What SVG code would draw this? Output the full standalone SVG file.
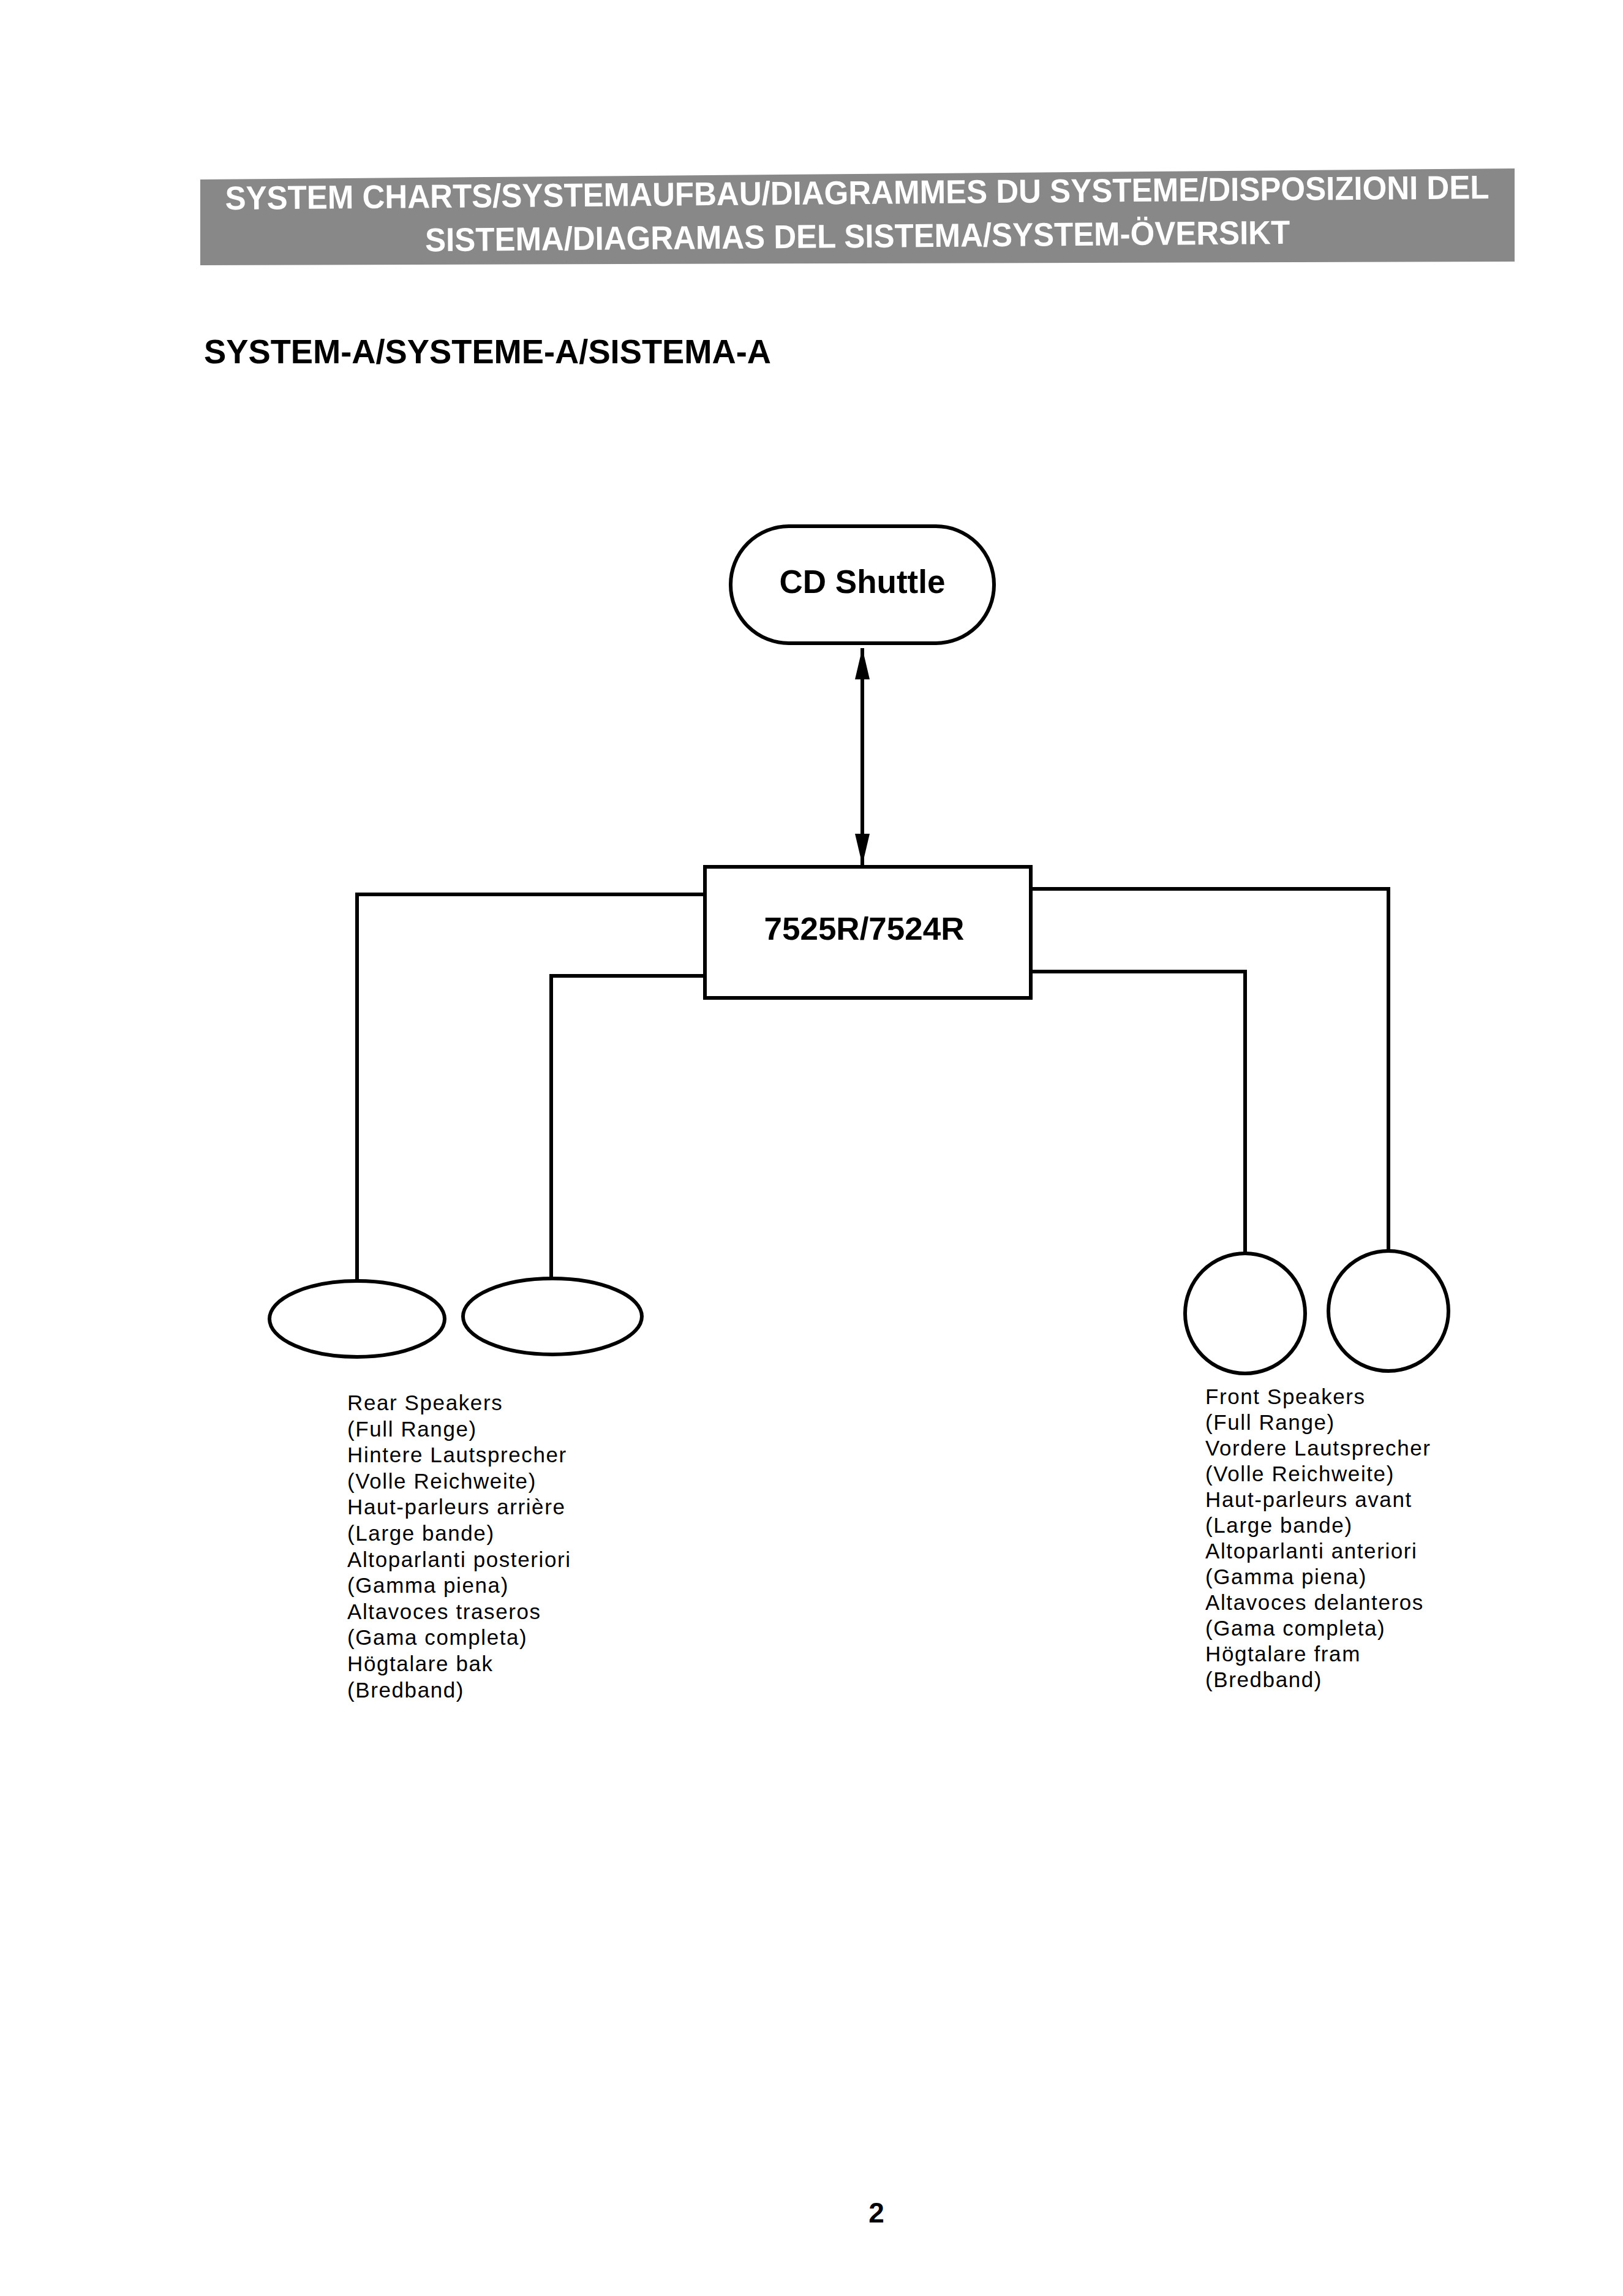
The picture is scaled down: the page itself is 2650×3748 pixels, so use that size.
<svg xmlns="http://www.w3.org/2000/svg" width="2650" height="3748" viewBox="0 0 2650 3748">
<style>
.hdr{font-family:"Liberation Sans",Arial,sans-serif;font-weight:bold;fill:#ffffff;font-size:54px}
.ttl{font-family:"Liberation Sans",Arial,sans-serif;font-weight:bold;fill:#000;font-size:56px}
.lbl{font-family:"Liberation Sans",Arial,sans-serif;font-weight:bold;fill:#000}
.cap{font-family:"Liberation Sans",Arial,sans-serif;fill:#000;font-size:35px;letter-spacing:1.6px}
.shape{fill:#fff;stroke:#000;stroke-width:6}
.wire{fill:none;stroke:#000;stroke-width:6}
</style>
<defs>
<marker id="ah" viewBox="0 0 10 10" refX="10" refY="5" markerWidth="8.5" markerHeight="4" markerUnits="strokeWidth" orient="auto-start-reverse" preserveAspectRatio="none">
<path d="M0,0 L10,5 L0,10 Z" fill="#000"/>
</marker>
</defs>
<rect width="2650" height="3748" fill="#fff"/>
<g id="header">
<polygon points="327,293 2473,275 2473,427 327,433" fill="#888888"/>
<g transform="rotate(-0.5 1400 365)">
<text class="hdr" x="1400" y="333" text-anchor="middle" textLength="2064" lengthAdjust="spacingAndGlyphs">SYSTEM CHARTS/SYSTEMAUFBAU/DIAGRAMMES DU SYSTEME/DISPOSIZIONI DEL</text>
<text class="hdr" x="1400" y="404" text-anchor="middle" textLength="1412" lengthAdjust="spacingAndGlyphs">SISTEMA/DIAGRAMAS DEL SISTEMA/SYSTEM-ÖVERSIKT</text>
</g>
</g>
<g id="title">
<text class="ttl" x="333" y="593" textLength="926" lengthAdjust="spacingAndGlyphs">SYSTEM-A/SYSTEME-A/SISTEMA-A</text>
</g>
<g id="connectors">
<line class="wire" x1="1408" y1="1058" x2="1408" y2="1412" marker-start="url(#ah)" marker-end="url(#ah)"/>
<polyline class="wire" points="1151,1460 583,1460 583,2092"/>
<polyline class="wire" points="1151,1593 900,1593 900,2087"/>
<polyline class="wire" points="1683,1451 2267,1451 2267,2042"/>
<polyline class="wire" points="1683,1586 2033,1586 2033,2047"/>
</g>
<g id="cd-shuttle">
<rect class="shape" x="1193" y="859" width="430" height="191" rx="95" ry="95" stroke-width="7"/>
<text class="lbl" x="1408" y="968" font-size="53" text-anchor="middle">CD Shuttle</text>
</g>
<g id="unit-7525r">
<rect class="shape" x="1151" y="1415" width="532" height="214"/>
<text class="lbl" x="1411" y="1534" font-size="52" text-anchor="middle" textLength="327" lengthAdjust="spacingAndGlyphs">7525R/7524R</text>
</g>
<g id="rear-speaker-1">
<ellipse class="shape" cx="583" cy="2153" rx="143" ry="62"/>
</g>
<g id="rear-speaker-2">
<ellipse class="shape" cx="902" cy="2149" rx="146" ry="62"/>
</g>
<g id="front-speaker-1">
<circle class="shape" cx="2033" cy="2144" r="98"/>
</g>
<g id="front-speaker-2">
<circle class="shape" cx="2267" cy="2140" r="98"/>
</g>
<g id="rear-label">
<text class="cap" x="567" y="2302">Rear Speakers</text>
<text class="cap" x="567" y="2344.6">(Full Range)</text>
<text class="cap" x="567" y="2387.2">Hintere Lautsprecher</text>
<text class="cap" x="567" y="2429.8">(Volle Reichweite)</text>
<text class="cap" x="567" y="2472.4">Haut-parleurs arrière</text>
<text class="cap" x="567" y="2515">(Large bande)</text>
<text class="cap" x="567" y="2557.6">Altoparlanti posteriori</text>
<text class="cap" x="567" y="2600.2">(Gamma piena)</text>
<text class="cap" x="567" y="2642.8">Altavoces traseros</text>
<text class="cap" x="567" y="2685.4">(Gama completa)</text>
<text class="cap" x="567" y="2728">Högtalare bak</text>
<text class="cap" x="567" y="2770.6">(Bredband)</text>
</g>
<g id="front-label">
<text class="cap" x="1968" y="2292">Front Speakers</text>
<text class="cap" x="1968" y="2334">(Full Range)</text>
<text class="cap" x="1968" y="2376">Vordere Lautsprecher</text>
<text class="cap" x="1968" y="2418">(Volle Reichweite)</text>
<text class="cap" x="1968" y="2460">Haut-parleurs avant</text>
<text class="cap" x="1968" y="2502">(Large bande)</text>
<text class="cap" x="1968" y="2544">Altoparlanti anteriori</text>
<text class="cap" x="1968" y="2586">(Gamma piena)</text>
<text class="cap" x="1968" y="2628">Altavoces delanteros</text>
<text class="cap" x="1968" y="2670">(Gama completa)</text>
<text class="cap" x="1968" y="2712">Högtalare fram</text>
<text class="cap" x="1968" y="2754">(Bredband)</text>
</g>
<g id="page-number">
<text class="lbl" x="1431" y="3628" font-size="46" text-anchor="middle">2</text>
</g>
</svg>
